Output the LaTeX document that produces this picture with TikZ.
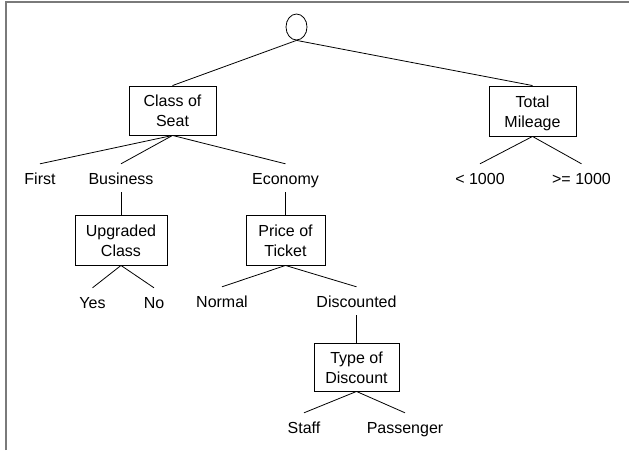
\documentclass[tikz,border=0pt]{standalone}
\usepackage{fontspec}
\setmainfont{Liberation Sans}
\usetikzlibrary{shapes.geometric}
\definecolor{framegray}{HTML}{7A7A7A}
\newcommand{\twolines}[2]{\raisebox{-2pt}[\height][\depth]{\begin{tabular}{@{}c@{}}#1\\#2\end{tabular}}}
\begin{document}
\begin{tikzpicture}[x=1pt,y=-1pt,
  txt/.style={font=\fontsize{16}{20}\selectfont},
  attr/.style={txt, draw, line width=0.9pt, align=center, inner sep=0pt},
  val/.style={txt, anchor=base, inner xsep=0pt, inner ysep=4pt, text height=16pt, text depth=4pt},
  edge/.style={line width=0.8pt}]
\useasboundingbox (0,0) rectangle (629,450);
\draw[framegray, line width=2pt] (6,450) -- (6,2) -- (629,2);

\node[ellipse, draw, line width=0.8pt, minimum width=21pt, minimum height=26pt, inner sep=0pt] (root) at (296.5,27) {};

\node[attr, minimum width=87pt, minimum height=49pt] (cos) at (172.5,110.5) {\twolines{Class of}{Seat}};
\node[attr, minimum width=87pt, minimum height=50pt] (tm) at (532.5,111) {\twolines{Total}{Mileage}};
\node[attr, minimum width=92pt, minimum height=50pt] (uc) at (121,240) {\twolines{Upgraded}{Class}};
\node[attr, minimum width=79pt, minimum height=50pt] (pt) at (285.5,240) {\twolines{Price of}{Ticket}};
\node[attr, minimum width=85pt, minimum height=48pt] (td) at (356.5,367) {\twolines{Type of}{Discount}};

\node[val] (first) at (40,184) {First};
\node[val] (bus) at (121,184) {Business};
\node[val] (eco) at (285.5,184) {Economy};
\node[val] (lt) at (480,184) {< 1000};
\node[val] (ge) at (581.5,184) {>= 1000};
\node[val] (yes) at (92.5,308) {Yes};
\node[val] (no) at (154,308) {No};
\node[val] (norm) at (222,307) {Normal};
\node[val] (disc) at (356.5,307) {Discounted};
\node[val] (staff) at (304,433) {Staff};
\node[val] (pass) at (405,433) {Passenger};

\draw[edge] (root.south) -- (cos.north);
\draw[edge] (root.south) -- (tm.north);
\draw[edge] (cos.south) -- (first.north);
\draw[edge] (cos.south) -- (bus.north);
\draw[edge] (cos.south) -- (eco.north);
\draw[edge] (tm.south) -- (lt.north);
\draw[edge] (tm.south) -- (ge.north);
\draw[edge] (bus.south) -- (uc.north);
\draw[edge] (eco.south) -- (pt.north);
\draw[edge] (uc.south) -- (yes.north);
\draw[edge] (uc.south) -- (no.north);
\draw[edge] (pt.south) -- (norm.north);
\draw[edge] (pt.south) -- (disc.north);
\draw[edge] (disc.south) -- (td.north);
\draw[edge] (td.south) -- (staff.north);
\draw[edge] (td.south) -- (pass.north);
\end{tikzpicture}
\end{document}
